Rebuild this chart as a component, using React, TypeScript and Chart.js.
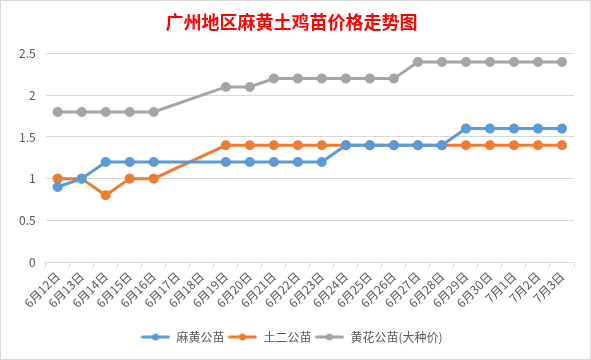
import React, { useEffect, useRef } from "react";
import { Chart, registerables } from "chart.js";

Chart.register(...registerables);

const categories = [
  "6月12日", "6月13日", "6月14日", "6月15日", "6月16日", "6月17日", "6月18日",
  "6月19日", "6月20日", "6月21日", "6月22日", "6月23日", "6月24日", "6月25日",
  "6月26日", "6月27日", "6月28日", "6月29日", "6月30日", "7月1日", "7月2日", "7月3日",
];

const mahuang = [0.9, 1.0, 1.2, 1.2, 1.2, null, null, 1.2, 1.2, 1.2, 1.2, 1.2, 1.4, 1.4, 1.4, 1.4, 1.4, 1.6, 1.6, 1.6, 1.6, 1.6];
const tuer = [1.0, 1.0, 0.8, 1.0, 1.0, null, null, 1.4, 1.4, 1.4, 1.4, 1.4, 1.4, 1.4, 1.4, 1.4, 1.4, 1.4, 1.4, 1.4, 1.4, 1.4];
const huanghua = [1.8, 1.8, 1.8, 1.8, 1.8, null, null, 2.1, 2.1, 2.2, 2.2, 2.2, 2.2, 2.2, 2.2, 2.4, 2.4, 2.4, 2.4, 2.4, 2.4, 2.4];

const seriesNames = ["麻黄公苗", "土二公苗", "黄花公苗(大种价)"];
const seriesColors = ["#5B9BD5", "#ED7D31", "#A5A5A5"];
const titleText = "广州地区麻黄土鸡苗价格走势图";

function legendIcon(color: string) {
  const c = document.createElement("canvas");
  c.width = 30;
  c.height = 10;
  const ctx = c.getContext("2d")!;
  ctx.strokeStyle = color;
  ctx.lineWidth = 3;
  ctx.lineCap = "round";
  ctx.beginPath();
  ctx.moveTo(2, 5);
  ctx.lineTo(28, 5);
  ctx.stroke();
  ctx.fillStyle = color;
  ctx.beginPath();
  ctx.arc(15, 5, 3.5, 0, Math.PI * 2);
  ctx.fill();
  return c;
}

export default function App() {
  const ref = useRef<HTMLCanvasElement>(null);
  useEffect(() => {
    document.body.style.margin = "0";
    const data = [mahuang, tuer, huanghua];
    const chart = new Chart(ref.current!, {
      type: "line",
      data: {
        labels: categories,
        datasets: data.map((d, i) => ({
          label: seriesNames[i],
          data: d,
          borderColor: seriesColors[i],
          backgroundColor: seriesColors[i],
          borderWidth: 3,
          pointRadius: 3.5,
          pointHoverRadius: 3.5,
          pointStyle: "circle",
          spanGaps: true,
          tension: 0,
        })),
      },
      options: {
        animation: false,
        responsive: false,
        maintainAspectRatio: false,
        layout: { padding: { left: 8, right: 16, top: 4, bottom: 6 } },
        plugins: {
          title: {
            display: true,
            text: titleText,
            color: "#FF0000",
            font: { family: "'Noto Sans CJK SC'", size: 18, weight: "bold" },
            padding: { top: 6, bottom: 21 },
          },
          legend: {
            position: "bottom",
            labels: {
              usePointStyle: true,
              pointStyleWidth: 30,
              generateLabels: (ch: any) =>
                ch.data.datasets.map((ds: any, i: number) => ({
                  text: ds.label,
                  pointStyle: legendIcon(seriesColors[i]),
                  fillStyle: seriesColors[i],
                  strokeStyle: seriesColors[i],
                  fontColor: "#595959",
                  lineWidth: 0,
                  hidden: false,
                  datasetIndex: i,
                })),
              color: "#595959",
              font: { family: "'Noto Sans CJK SC'", size: 12 },
              padding: 3,
            },
          },
          tooltip: { enabled: false },
        },
        scales: {
          x: {
            offset: true,
            grid: {
              display: true,
              offset: true,
              drawOnChartArea: false,
              drawTicks: true,
              tickLength: 5,
              color: "#D9D9D9",
            },
            border: { display: true, color: "#D9D9D9" },
            ticks: {
              color: "#595959",
              font: { family: "'Noto Sans CJK SC'", size: 12 },
              maxRotation: 45,
              minRotation: 45,
              autoSkip: false,
              padding: 2,
            },
            afterFit: (s: any) => {
              s.height = 66;
            },
          },
          y: {
            min: 0,
            max: 2.5,
            grid: { color: "#D9D9D9", drawTicks: false },
            border: { display: false },
            ticks: {
              stepSize: 0.5,
              color: "#595959",
              font: { family: "'Noto Sans CJK SC'", size: 12 },
              padding: 10,
              callback: (v: any) => `${+v}`,
            },
          },
        },
      },
    });
    return () => chart.destroy();
  }, []);
  return (
    <div style={{ width: 591, height: 360, boxSizing: "border-box", border: "1px solid #D9D9D9", background: "#fff" }}>
      <canvas ref={ref} width={589} height={358} style={{ display: "block" }} />
    </div>
  );
}
